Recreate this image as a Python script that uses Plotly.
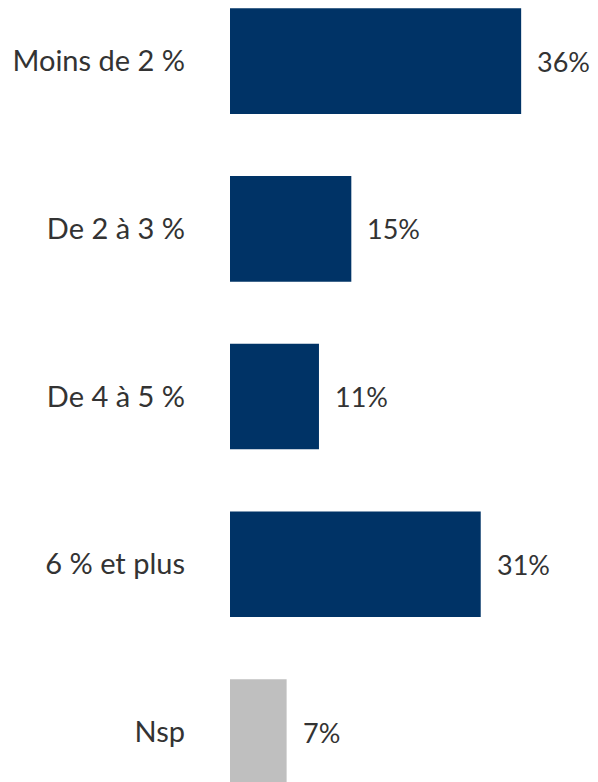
import plotly.graph_objects as go

# Survey answers and their shares (%)
categories = ["Moins de 2 %", "De 2 à 3 %", "De 4 à 5 %", "6 % et plus", "Nsp"]
values = [36, 15, 11, 31, 7]
value_labels = ["36%", "15%", "11%", "31%", "7%"]
bar_colors = ["#003366", "#003366", "#003366", "#003366", "#BFBFBF"]

FONT = "Lato"
TEXT_COLOR = "#333333"

positions = list(range(len(categories)))

fig = go.Figure(
    go.Bar(
        x=values,
        y=positions,
        orientation="h",
        marker=dict(color=bar_colors, line=dict(width=0)),
        width=0.63,
        hoverinfo="skip",
    )
)

# Percentage labels to the right of each bar
for pos, val, lab in zip(positions, values, value_labels):
    fig.add_annotation(
        x=val, y=pos, text=lab, showarrow=False,
        xanchor="left", yanchor="middle", xshift=14,
        font=dict(family=FONT, size=27, color=TEXT_COLOR),
    )

fig.update_layout(
    width=598, height=782,
    margin=dict(l=230, r=0, t=0, b=0),
    paper_bgcolor="white", plot_bgcolor="white",
    showlegend=False,
    xaxis=dict(range=[0, 45.5], visible=False, fixedrange=True),
    yaxis=dict(
        range=[4.298, -0.364],
        tickmode="array", tickvals=positions, ticktext=categories,
        ticks="", showgrid=False, zeroline=False, showline=False,
        ticklabelstandoff=44,
        tickfont=dict(family=FONT, size=29, color=TEXT_COLOR),
        fixedrange=True,
    ),
)

fig.write_html("out.html")
